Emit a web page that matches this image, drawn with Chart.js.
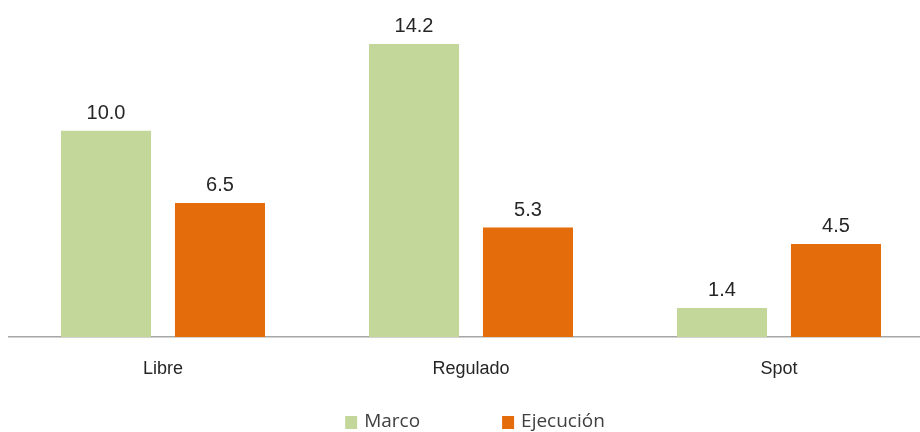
<!DOCTYPE html>
<html>
<head>
<meta charset="utf-8">
<script src="https://cdn.jsdelivr.net/npm/chart.js@4"></script>
<style>
  html, body { margin: 0; padding: 0; background: #fff; overflow: hidden; }
  .wrap { width: 920px; height: 432px; overflow: hidden; position: relative; }
  .wrap canvas { position: absolute; left: 0; top: 0; }
</style>
</head>
<body>
<div class="wrap">
  <canvas id="barChart" width="950" height="432"></canvas>
</div>
<script>
// Data
const categories = ['Libre', 'Regulado', 'Spot'];
const marcoValues = [10.0, 14.2, 1.4];
const ejecucionValues = [6.5, 5.3, 4.5];
const seriesNames = ['Marco', 'Ejecución'];

// Value labels above each bar
const valueLabels = {
    id: 'valueLabels',
    afterDatasetsDraw(chart) {
        const ctx = chart.ctx;
        ctx.save();
        ctx.font = '20px "Liberation Sans", Arial, sans-serif';
        ctx.fillStyle = '#262626';
        ctx.textAlign = 'center';
        ctx.textBaseline = 'alphabetic';
        chart.data.datasets.forEach((ds, i) => {
            chart.getDatasetMeta(i).data.forEach((bar, j) => {
                ctx.fillText(ds.data[j].toFixed(1), bar.x, bar.y - 12);
            });
        });
        ctx.restore();
    }
};

// Legend drawn at the bottom, Excel style (square marker + wide gap)
const bottomLegend = {
    id: 'bottomLegend',
    afterDraw(chart) {
        const ctx = chart.ctx;
        const box = 12, gap = 7, spacing = 82;
        ctx.save();
        ctx.font = '19px "Open Sans", sans-serif';
        ctx.textBaseline = 'middle';
        const items = chart.data.datasets.map(ds => ({
            text: ds.label,
            color: ds.backgroundColor,
            w: box + gap + ctx.measureText(ds.label).width
        }));
        const total = items.reduce((s, it) => s + it.w, 0) + spacing * (items.length - 1);
        let x = chart.width / 2 - total / 2;
        const y = 422;
        items.forEach(it => {
            ctx.fillStyle = it.color;
            ctx.fillRect(x, y - 6, box, 13);
            ctx.fillStyle = '#404040';
            ctx.fillText(it.text, x + box + gap, y);
            x += it.w + spacing;
        });
        ctx.restore();
    }
};

const ctx = document.getElementById('barChart').getContext('2d');
const barChart = new Chart(ctx, {
    type: 'bar',
    data: {
        labels: categories,
        datasets: [{
            label: seriesNames[0],
            data: marcoValues,
            backgroundColor: '#C4D79B'
        }, {
            label: seriesNames[1],
            data: ejecucionValues,
            backgroundColor: '#E46C0A'
        }]
    },
    options: {
        responsive: false,
        animation: false,
        categoryPercentage: 0.74,
        barPercentage: 0.79,
        layout: {
            padding: { left: 9, right: 17, top: 7, bottom: 31.5 }
        },
        scales: {
            y: {
                display: false,
                min: 0,
                max: 16
            },
            x: {
                grid: { display: false, drawTicks: false },
                border: { display: true, color: '#A6A6A6', width: 1.5 },
                ticks: {
                    color: '#262626',
                    padding: 21,
                    font: { family: '"Liberation Sans", Arial, sans-serif', size: 18 }
                }
            }
        },
        plugins: {
            legend: { display: false },
            tooltip: { enabled: false }
        }
    },
    plugins: [valueLabels, bottomLegend]
});
</script>
</body>
</html>
